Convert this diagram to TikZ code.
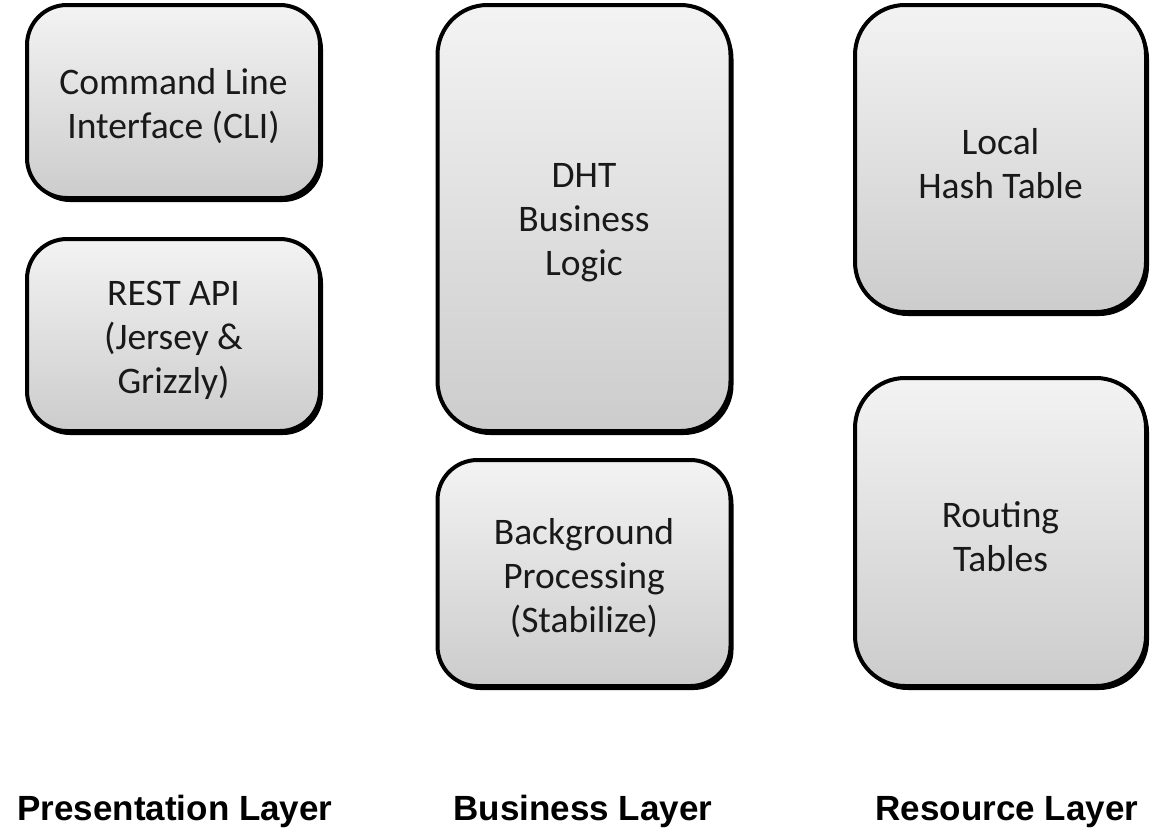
\documentclass[tikz,border=0pt]{standalone}
\usepackage{fontspec}
\newfontfamily\boxfont{Carlito}
\newfontfamily\layerfont{Liberation Sans}
\definecolor{boxtop}{HTML}{F3F3F3}
\definecolor{boxbottom}{HTML}{CCCCCC}
\usepackage{tikz}
\usetikzlibrary{positioning, shadows, shapes.misc}
\tikzset{
	layerbox/.style={
			shape=rectangle,
			rounded corners=40pt,
			draw=black,
			line width=4pt,
			top color=boxtop,
			bottom color=boxbottom,
			drop shadow={shadow xshift=3pt, shadow yshift=-4pt, fill=black, opacity=1},
			minimum width=293pt,
			inner sep=0pt
		}
}
\tikzset{
	boxtext/.style={align=center, inner sep=0pt, yshift=-5pt, text=black!90,
			font=\boxfont\fontsize{37.5}{44}\selectfont}
}
\tikzset{
	layertext/.style={font=\layerfont\bfseries\fontsize{35}{40}\selectfont, inner sep=0pt, anchor=base}
}

\begin{document}
\begin{tikzpicture}[x=1pt, y=-1pt]
			\useasboundingbox (0,0) rectangle (1158,838);

			\node[layerbox, minimum height=193pt] (cli) at (173.5,101.5) {};
			\node[layerbox, minimum height=192pt] (rest) at (173.5,335) {};
			\node[layerbox, minimum height=426pt, rounded corners=50pt] (dht) at (584,218) {};
			\node[layerbox, minimum height=226pt] (bg) at (584,573) {};
			\node[layerbox, minimum height=307pt, minimum width=291pt, rounded corners=50pt] (hash) at (1000.5,158.5) {};
			\node[layerbox, minimum height=308pt, minimum width=291pt, rounded corners=50pt] (routing) at (1000.5,532) {};

			\node[boxtext] at (cli) {Command Line\\Interface (CLI)};
			\node[boxtext] at (rest) {REST API\\(Jersey \&\\Grizzly)};
			\node[boxtext] at (dht) {DHT\\Business\\Logic};
			\node[boxtext] at (bg) {Background\\Processing\\(Stabilize)};
			\node[boxtext] at (hash) {Local\\Hash Table};
			\node[boxtext] at (routing) {Routing\\Tables};

			\node[layertext] (presl) at (175,820) {Presentation Layer};
			\node[layertext] (busl) at (583,820) {Business Layer};
			\node[layertext] (resl) at (1007,820) {Resource Layer};

		\end{tikzpicture}
\end{document}
